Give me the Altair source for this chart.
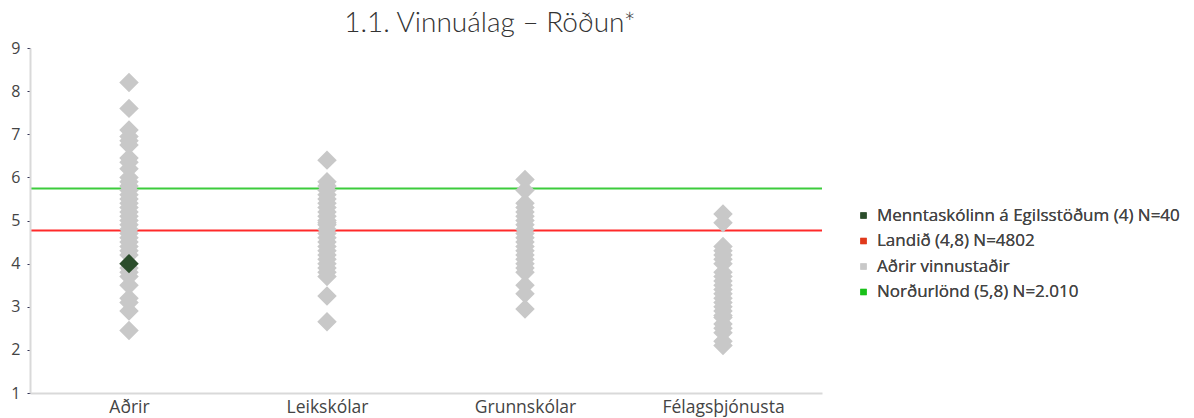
import altair as alt
import pandas as pd

categories = ["Aðrir", "Leikskólar", "Grunnskólar", "Félagsþjónusta"]

adrir = [8.2, 7.6, 7.1, 6.95, 6.85, 6.75, 6.45, 6.35, 6.2, 6.0, 5.9, 5.8, 5.7, 5.6, 5.5,
         5.4, 5.3, 5.2, 5.1, 5.0, 4.9, 4.8, 4.7, 4.6, 4.5, 4.4, 4.3, 4.2, 3.9, 3.8, 3.7,
         3.5, 3.2, 3.1, 2.9, 2.45]
leikskolar = [6.4, 5.9, 5.8, 5.7, 5.6, 5.5, 5.4, 5.3, 5.2, 5.1, 5.0, 4.95, 4.9, 4.8, 4.7,
              4.6, 4.5, 4.4, 4.3, 4.2, 4.1, 4.0, 3.9, 3.8, 3.7, 3.25, 2.65]
grunnskolar = [5.95, 5.7, 5.4, 5.3, 5.2, 5.1, 5.0, 4.9, 4.8, 4.7, 4.6, 4.5, 4.4, 4.3, 4.2,
               4.1, 4.0, 3.9, 3.8, 3.5, 3.3, 2.95]
felags = [5.15, 4.95, 4.4, 4.3, 4.2, 4.1, 4.0, 3.8, 3.7, 3.6, 3.5, 3.4, 3.3, 3.2, 3.1,
          3.0, 2.9, 2.8, 2.75, 2.6, 2.5, 2.4, 2.2, 2.1]

highlight_category = "Aðrir"
highlight_value = 4.0

legend_labels = ["Menntaskólinn á Egilsstöðum (4) N=40", "Landið (4,8) N=4802",
                 "Aðrir vinnustaðir", "Norðurlönd (5,8) N=2.010"]
legend_colors = ["#2b4d2b", "#e0391b", "#c8c8c8", "#19c019"]

line_values = [4.77, 5.74]
line_colors = ["#ff2a2a", "#3ccc3c"]

rows = []
for cat, vals in zip(categories, [adrir, leikskolar, grunnskolar, felags]):
    for v in vals:
        rows.append({"cat": cat, "val": v, "grp": "Aðrir vinnustaðir"})
pts = pd.DataFrame(rows)
hl = pd.DataFrame([{"cat": highlight_category, "val": highlight_value, "grp": legend_labels[0]}])

lines = pd.DataFrame({"val": line_values, "c": line_colors})

font = "Open Sans"
yscale = alt.Scale(domain=[1, 9], nice=False, zero=False)

y_axis = alt.Axis(values=list(range(1, 10)), grid=False, labelFontSize=16,
                  labelColor="#444444", labelFont=font, tickColor="#333355",
                  tickSize=3, domainColor="#d9d9d9", domainWidth=2, labelPadding=7, zindex=1)

x_enc = alt.X("cat:N", sort=categories, title=None,
              scale=alt.Scale(domain=categories, paddingInner=0, paddingOuter=0),
              axis=alt.Axis(labelAngle=0, labelFontSize=17.5, labelColor="#444444", labelFont=font,
                            ticks=False, grid=False, domainColor="#d9d9d9", domainWidth=2,
                            labelPadding=5, zindex=1))
y_enc = alt.Y("val:Q", title=None, scale=yscale, axis=y_axis)

color_enc = alt.Color("grp:N", scale=alt.Scale(domain=legend_labels, range=legend_colors),
                      legend=alt.Legend(title=None, orient="none", legendX=825, legendY=159,
                                        symbolType="square", symbolSize=40, labelFontSize=17,
                                        labelFont=font, labelColor="#444444", rowPadding=7.5,
                                        labelOffset=5, padding=0, labelLimit=0))

rules = alt.Chart(lines).mark_rule(strokeWidth=2).encode(
    y=alt.Y("val:Q", scale=yscale, axis=y_axis, title=None),
    color=alt.Color("c:N", scale=None, legend=None),
)

points = alt.Chart(pts).mark_point(shape="diamond", filled=True, size=380, opacity=1).encode(
    x=x_enc, y=y_enc, color=color_enc,
)
highlight = alt.Chart(hl).mark_point(shape="diamond", filled=True, size=380, opacity=1).encode(
    x=x_enc, y=y_enc, color=color_enc,
)

chart = alt.layer(rules, points, highlight).resolve_scale(color="independent").properties(
    width=792, height=345,
    background="white",
    autosize=alt.AutoSizeParams(type="none"),
    padding={"left": 22, "top": 40, "right": 364, "bottom": 25},
    title=alt.TitleParams("1.1. Vinnuálag – Röðun*", font="Lato", fontSize=28, fontWeight=300,
                          color="#333333", anchor="middle", dx=64, offset=2),
).configure_view(stroke="white", strokeWidth=1)

chart.save("out.html", embed_options={"renderer": "svg", "actions": False})
